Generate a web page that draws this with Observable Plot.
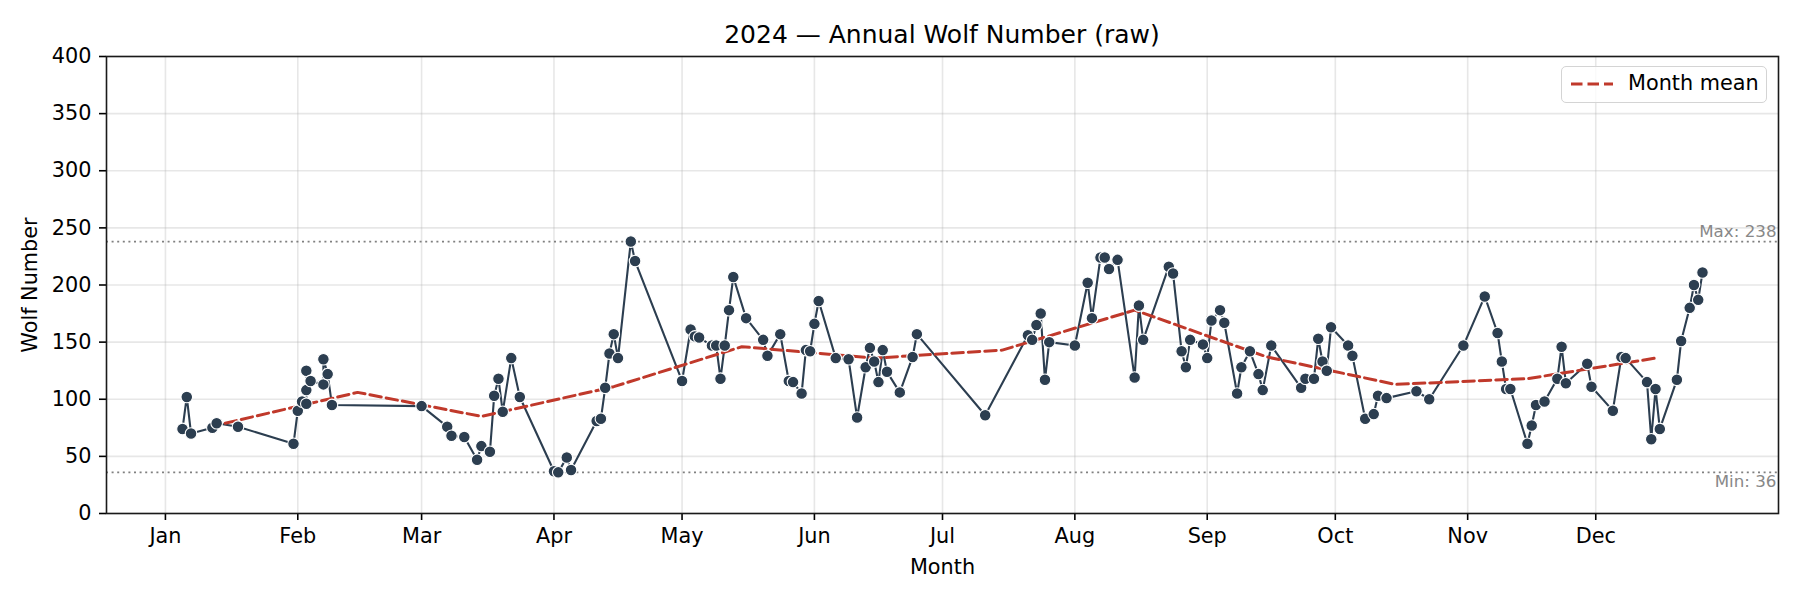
<!DOCTYPE html>
<html>
<head>
<meta charset="utf-8">
<script src="https://cdn.jsdelivr.net/npm/d3@7"></script>
<script src="https://cdn.jsdelivr.net/npm/@observablehq/plot@0.6"></script>
<style>
  html, body { margin: 0; padding: 0; background: #fff; }
  body { width: 1800px; height: 600px; position: relative; overflow: hidden; font-family: "DejaVu Sans", sans-serif; }
  #title { box-sizing: border-box; height: 50px; padding: 20px 22px 0 106px; text-align: center; font-size: 25px; line-height: 29px; color: #000; white-space: nowrap; }
  #chart svg { display: block; }
  #legend { position: absolute; left: 1561px; top: 66px; width: 206px; height: 37px; box-sizing: border-box;
            border: 1.5px solid #d4d4d4; border-radius: 5px; background: rgba(255,255,255,0.8); }
  #legend svg { position: absolute; left: 8px; top: 12px; }
  #legend span { position: absolute; left: 66px; top: 4px; font-size: 20.8px; line-height: 24px; color: #000; white-space: nowrap; }
</style>
</head>
<body>
<div id="title">2024 — Annual Wolf Number (raw)</div>
<div id="chart"></div>
<div id="legend"><svg width="44" height="10"><line x1="1" y1="5" x2="43" y2="5" stroke="#c0392b" stroke-width="3" stroke-dasharray="11.5,5"/></svg><span>Month mean</span></div>
<script>
// ---- data ----
const dates = [
  "2024-01-05","2024-01-06","2024-01-07","2024-01-12","2024-01-13","2024-01-18","2024-01-31",
  "2024-02-01","2024-02-02","2024-02-03","2024-02-03","2024-02-03","2024-02-04","2024-02-07","2024-02-07","2024-02-08","2024-02-09",
  "2024-03-01","2024-03-07","2024-03-08","2024-03-11","2024-03-14","2024-03-15","2024-03-17","2024-03-18","2024-03-19","2024-03-20","2024-03-22","2024-03-24",
  "2024-04-01","2024-04-02","2024-04-04","2024-04-05","2024-04-11","2024-04-12","2024-04-13","2024-04-14","2024-04-15","2024-04-16","2024-04-19","2024-04-20",
  "2024-05-01","2024-05-03","2024-05-04","2024-05-05","2024-05-08","2024-05-09","2024-05-10","2024-05-11","2024-05-12","2024-05-13","2024-05-16","2024-05-20","2024-05-21","2024-05-24","2024-05-26","2024-05-27","2024-05-29","2024-05-30","2024-05-31",
  "2024-06-01","2024-06-02","2024-06-06","2024-06-09","2024-06-11","2024-06-13","2024-06-14","2024-06-15","2024-06-16","2024-06-17","2024-06-18","2024-06-21","2024-06-24","2024-06-25",
  "2024-07-11","2024-07-21","2024-07-22","2024-07-23","2024-07-24","2024-07-25","2024-07-26",
  "2024-08-01","2024-08-04","2024-08-05","2024-08-07","2024-08-08","2024-08-09","2024-08-11","2024-08-15","2024-08-16","2024-08-17","2024-08-23","2024-08-24","2024-08-26","2024-08-27","2024-08-28","2024-08-31",
  "2024-09-01","2024-09-02","2024-09-04","2024-09-05","2024-09-08","2024-09-09","2024-09-11","2024-09-13","2024-09-14","2024-09-16","2024-09-23","2024-09-24","2024-09-26","2024-09-27","2024-09-28","2024-09-29","2024-09-30",
  "2024-10-04","2024-10-05","2024-10-08","2024-10-10","2024-10-11","2024-10-13","2024-10-20","2024-10-23","2024-10-31",
  "2024-11-05","2024-11-08","2024-11-09","2024-11-10","2024-11-11","2024-11-15","2024-11-16","2024-11-17","2024-11-19","2024-11-22","2024-11-23","2024-11-24","2024-11-29","2024-11-30",
  "2024-12-05","2024-12-07","2024-12-08","2024-12-13","2024-12-14","2024-12-15","2024-12-16","2024-12-20","2024-12-21","2024-12-23","2024-12-24","2024-12-25","2024-12-26"
];
const wolf = [
  74,102,70,75,79,76,61,
  90,98,96,108,125,116,113,135,122,95,
  94,76,68,67,47,59,54,103,118,89,136,102,
  37,36,49,38,81,83,110,140,157,136,238,221,
  116,161,155,154,147,147,118,147,178,207,171,152,138,157,116,115,105,143,142,
  166,186,136,135,84,128,145,133,115,143,124,106,137,157,
  86,156,152,165,175,117,150,
  147,202,171,224,224,214,222,119,182,152,216,210,142,128,152,148,
  136,169,178,167,105,128,142,122,108,147,110,118,118,153,133,125,163,
  147,138,83,87,103,101,107,100,147,
  190,158,133,109,109,61,77,95,98,118,146,114,131,111,
  90,137,136,115,65,109,74,117,151,180,200,187,211
];
const monthMid = ["2024-01-15","2024-02-15","2024-03-15","2024-04-15","2024-05-15","2024-06-15",
                  "2024-07-15","2024-08-15","2024-09-15","2024-10-15","2024-11-15","2024-12-15"];
const monthMean = [79,106,85,111,146,136,143,178,137,113,118,136];
const monthTicks = ["2024-01-01","2024-02-01","2024-03-01","2024-04-01","2024-05-01","2024-06-01",
                    "2024-07-01","2024-08-01","2024-09-01","2024-10-01","2024-11-01","2024-12-01"];
const yTicks = [0,50,100,150,200,250,300,350,400];

// ---- build ----
const parse = d3.utcParse("%Y-%m-%d");
const obs = dates.map((d, i) => ({date: parse(d), value: wolf[i]}));
const means = monthMid.map((d, i) => ({date: parse(d), value: monthMean[i]}));
const xTicks = monthTicks.map(parse);
const vmax = d3.max(wolf), vmin = d3.min(wolf);
const x0 = d3.min(obs, d => d.date), x1 = d3.max(obs, d => d.date);
const pad = (x1 - x0) * 0.05;

const gridStyle = {stroke: "#b0b0b0", strokeOpacity: 0.3, strokeWidth: 1.6};

const chart = Plot.plot({
  width: 1800,
  height: 550,
  marginLeft: 106,
  marginRight: 22,
  marginTop: 6,
  marginBottom: 87,
  style: {fontFamily: "DejaVu Sans, sans-serif", fontSize: "20.8px", color: "#000", background: "#fff", overflow: "visible"},
  x: {type: "utc", domain: [new Date(+x0 - pad), new Date(+x1 + pad)]},
  y: {domain: [0, 400]},
  marks: [
    Plot.gridX(xTicks, gridStyle),
    Plot.gridY(yTicks, gridStyle),
    Plot.ruleY([vmax, vmin], {stroke: "#808080", strokeWidth: 1.6, strokeDasharray: "2,3.6"}),
    Plot.line(obs, {x: "date", y: "value", stroke: "#2c3e50", strokeWidth: 2.1}),
    Plot.line(means, {x: "date", y: "value", stroke: "#c0392b", strokeWidth: 3, strokeDasharray: "11.5,5"}),
    Plot.dot(obs, {x: "date", y: "value", r: 5.8, fill: "#2c3e50", stroke: "#fff", strokeWidth: 1.1}),
    Plot.text([vmax], {y: d => d, text: d => `Max: ${d}`, frameAnchor: "right", textAnchor: "end",
                       lineAnchor: "bottom", dx: -2, dy: -5, fill: "#888", fontSize: 16.7}),
    Plot.text([vmin], {y: d => d, text: d => `Min: ${d}`, frameAnchor: "right", textAnchor: "end",
                       lineAnchor: "top", dx: -2, dy: 3, fill: "#888", fontSize: 16.7}),
    Plot.axisX(xTicks, {tickFormat: d3.utcFormat("%b"), tickSize: 7, tickPadding: 8, strokeWidth: 1.6,
                        label: "Month", labelArrow: "none", labelAnchor: "center", labelOffset: 60, fontSize: 20.8}),
    Plot.axisY(yTicks, {tickSize: 7, tickPadding: 8, strokeWidth: 1.6,
                        label: "Wolf Number", labelArrow: "none", labelAnchor: "center", labelOffset: 84, fontSize: 20.8}),
    Plot.frame({stroke: "#1a1a1a", strokeWidth: 1.6})
  ]
});
document.getElementById("chart").appendChild(chart);
</script>
</body>
</html>
